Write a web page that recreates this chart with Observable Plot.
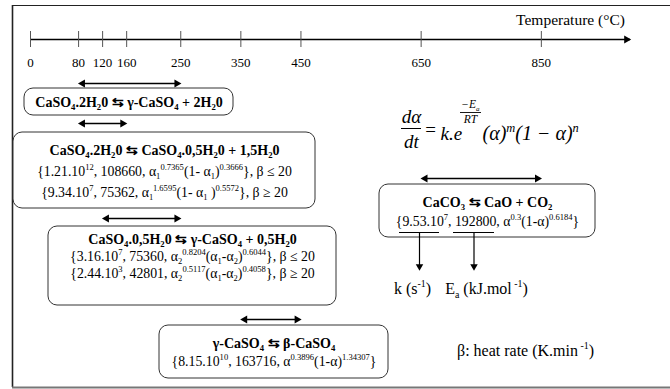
<!DOCTYPE html>
<html>
<head>
<meta charset="utf-8">
<script src="https://cdn.jsdelivr.net/npm/d3@7"></script>
<script src="https://cdn.jsdelivr.net/npm/@observablehq/plot@0.6"></script>
<style>
  html, body { margin: 0; padding: 0; background: #fff; }
  svg { display: block; }
</style>
</head>
<body>
<div id="chart"></div>
<script>
// ---------------- data ----------------
const tempTicks = [0, 80, 120, 160, 250, 350, 450, 650, 850];
const axisTitle = "Temperature (°C)";

// temperature ranges of each reaction (°C)
const rangeFrom = [80, 80, 120, 350, 650];
const rangeTo   = [250, 160, 250, 450, 850];

// reactions (markup: _[..] subscript, ^[..] superscript)
const reactionTitles = [
  "CaSO_[4].2H_[2]0 ⇆ γ-CaSO_[4] + 2H_[2]0",
  "CaSO_[4].2H_[2]0 ⇆ CaSO_[4].0,5H_[2]0 + 1,5H_[2]0",
  "CaSO_[4].0,5H_[2]0 ⇆ γ-CaSO_[4] + 0,5H_[2]0",
  "γ-CaSO_[4] ⇆ β-CaSO_[4]",
  "CaCO_[3] ⇆ CaO + CO_[2]"
];
// kinetic parameter lines {k, Ea, f(α)}, β condition
const kineticLines = [
  [],
  ["{1.21.10^[12], 108660, α_[1]^[0.7365](1- α_[1])^[0.3666]}, β ≤ 20",
   "{9.34.10^[7], 75362, α_[1]^[1.6595](1- α_[1] )^[0.5572]}, β ≥ 20"],
  ["{3.16.10^[7], 75360, α_[2]^[0.8204](α_[1]-α_[2])^[0.6044]}, β ≤ 20",
   "{2.44.10^[3], 42801, α_[2]^[0.5117](α_[1]-α_[2])^[0.4058]}, β ≥ 20"],
  ["{8.15.10^[10], 163716, α^[0.3896](1-α)^[1.34307]}"],
  ["{9.53.10^[7], 192800, α^[0.3](1-α)^[0.6184]}"]
];
const unitLabels = ["k (s^[-1])", "E_[a] (kJ.mol^[ -1])"];
const betaLabel = "β: heat rate (K.min^[ -1])";

// ---------------- layout (pixels) ----------------
const W = 670, H = 389;
const x0px = 30, pxPerDeg = 0.601;           // temperature axis placement
const X = px => (px - x0px) / pxPerDeg;       // pixel -> temperature units
const axisY = 39, axisEndPx = 630;
const rangeArrowY = [83, 123, 218, 319, 178];
const boxes = [
  {x1: 24,  x2: 233, y1: 88,  y2: 115, cx: 128.5, ty: [102]},
  {x1: 13,  x2: 315, y1: 132, y2: 208, cx: 164,   ty: [150, 171, 192]},
  {x1: 48,  x2: 336, y1: 226, y2: 305, cx: 192,   ty: [239, 256, 273]},
  {x1: 159, x2: 388, y1: 325, y2: 378, cx: 273.5, ty: [343, 361]},
  {x1: 379, x2: 595, y1: 184, y2: 237, cx: 487,   ty: [202, 221]}
];
const underline = [{a: 399, b: 439}, {a: 453, b: 494}];
const downArrowY = [232, 270];
const unitPos = [{x: 412, y: 288}, {x: 486, y: 288}];

const serif = "Liberation Serif";

// ---------------- derived tables ----------------
const ranges = rangeFrom.map((f, i) => ({from: f, to: rangeTo[i], y: rangeArrowY[i]}));
const boxRects = boxes.map(b => ({x1: X(b.x1), x2: X(b.x2), y1: b.y1, y2: b.y2}));
const titleTexts = reactionTitles.map((t, i) => ({x: X(boxes[i].cx), y: boxes[i].ty[0], t}));
const paramTexts = kineticLines.flatMap((lines, i) => lines.map((t, j) => ({x: X(boxes[i].cx), y: boxes[i].ty[j + 1], t})));
const unl = underline.map(u => ({x1: X(u.a), x2: X(u.b), xm: X((u.a + u.b) / 2)}));

const txt = (extra) => Object.assign({fontFamily: serif, fill: "#000"}, extra);

const plot = Plot.plot({
  width: W, height: H,
  margin: 0,
  style: {fontFamily: serif, background: "#fff"},
  x: {domain: [X(0), X(W)], range: [0, W], axis: null},
  y: {domain: [0, H], range: [0, H], axis: null},
  marks: [
    // frame
    Plot.ruleY([5], {x1: X(12), x2: X(W), stroke: "#222", strokeWidth: 1.2}),
    Plot.ruleX([X(12)], {y1: 5, y2: 387, stroke: "#222", strokeWidth: 1.6}),
    Plot.ruleY([387], {x1: X(12), x2: X(W), stroke: "#777", strokeWidth: 2}),

    // temperature axis
    Plot.ruleY([axisY], {x1: 0, x2: X(axisEndPx), stroke: "#000", strokeWidth: 1.4}),
    Plot.dot([X(axisEndPx)], {x: d => d, y: axisY, symbol: "triangle", rotate: 90, r: 3, fill: "#000", stroke: null, dx: -4}),
    Plot.ruleX(tempTicks, {y1: axisY - 8, y2: axisY + 8, stroke: "#555", strokeWidth: 1}),
    Plot.text(tempTicks, txt({x: d => d, y: 62, text: d => String(d), fontSize: 13})),
    Plot.text([axisTitle], txt({x: X(570), y: 20, text: d => d, fontSize: 15.5})),

    // temperature range double arrows
    Plot.ruleY(ranges, {x1: "from", x2: "to", y: "y", stroke: "#000", strokeWidth: 1.5, insetLeft: 3, insetRight: 3}),
    Plot.dot(ranges, {x: "to", y: "y", symbol: "triangle", rotate: 90, r: 3, fill: "#000", stroke: null, dx: -4}),
    Plot.dot(ranges, {x: "from", y: "y", symbol: "triangle", rotate: -90, r: 3, fill: "#000", stroke: null, dx: 4}),

    // reaction boxes
    Plot.rect(boxRects, {x1: "x1", x2: "x2", y1: "y1", y2: "y2", rx: 9, fill: "#fff", stroke: "#333", strokeWidth: 1}),
    Plot.text(titleTexts, txt({x: "x", y: "y", text: "t", fontSize: 14, fontWeight: "bold"})),
    Plot.text(paramTexts, txt({x: "x", y: "y", text: "t", fontSize: 13.8})),

    // underlines and down arrows (k, Ea)
    Plot.ruleY(unl, {x1: "x1", x2: "x2", y: downArrowY[0], stroke: "#000", strokeWidth: 1.2}),
    Plot.ruleX(unl, {x: "xm", y1: downArrowY[0], y2: downArrowY[1] - 3, stroke: "#000", strokeWidth: 1.2}),
    Plot.dot(unl, {x: "xm", y: downArrowY[1], symbol: "triangle", rotate: 180, r: 2.8, fill: "#000", stroke: null, dy: -4}),
    Plot.text(unitLabels, txt({x: (d, i) => X(unitPos[i].x), y: (d, i) => unitPos[i].y, text: d => d, fontSize: 16})),
    Plot.text([betaLabel], txt({x: X(525), y: 350, text: d => d, fontSize: 16})),

    // rate equation
    Plot.text(["dα"], txt({x: X(411), y: 116, text: d => d, fontSize: 19, fontStyle: "italic"})),
    Plot.ruleY([128], {x1: X(401), x2: X(421), stroke: "#000", strokeWidth: 1}),
    Plot.text(["dt"], txt({x: X(411), y: 141, text: d => d, fontSize: 19, fontStyle: "italic"})),
    Plot.text(["="], txt({x: X(430), y: 129, text: d => d, fontSize: 19})),
    Plot.text(["k.e"], txt({x: X(440), y: 133, text: d => d, textAnchor: "start", fontSize: 19, fontStyle: "italic"})),
    Plot.text(["−E_[a]"], txt({x: X(470), y: 104, text: d => d, fontSize: 11.5, fontStyle: "italic"})),
    Plot.ruleY([112], {x1: X(460), x2: X(481), stroke: "#000", strokeWidth: 0.9}),
    Plot.text(["RT"], txt({x: X(470), y: 119, text: d => d, fontSize: 11.5, fontStyle: "italic"})),
    Plot.text(["(α)^[m](1 − α)^[n]"], txt({x: X(482), y: 133, text: d => d, textAnchor: "start", fontSize: 20, fontStyle: "italic"}))
  ]
});

document.getElementById("chart").appendChild(plot);

// render sub/superscript markup as tspans
const ns = "http://www.w3.org/2000/svg";
plot.querySelectorAll("text").forEach(el => {
  const s = el.textContent;
  if (!/[_^]\[/.test(s)) return;
  const base = parseFloat(getComputedStyle(el).fontSize) || 14;
  const parts = [];
  const re = /([_^])\[([^\]]*)\]/g;
  let last = 0, m;
  while ((m = re.exec(s))) {
    if (m.index > last) parts.push({t: s.slice(last, m.index), k: ""});
    parts.push({t: m[2], k: m[1]});
    last = re.lastIndex;
  }
  if (last < s.length) parts.push({t: s.slice(last), k: ""});
  el.textContent = "";
  let cur = 0;
  for (const p of parts) {
    const ts = document.createElementNS(ns, "tspan");
    let target = 0;
    if (p.k === "_") { target = 0.25 * base; ts.setAttribute("font-size", (0.62 * base).toFixed(2)); }
    else if (p.k === "^") { target = -0.42 * base; ts.setAttribute("font-size", (0.62 * base).toFixed(2)); }
    const dy = target - cur;
    if (dy !== 0) ts.setAttribute("dy", dy.toFixed(2));
    cur = target;
    ts.textContent = p.t;
    el.appendChild(ts);
  }
});
</script>
</body>
</html>
